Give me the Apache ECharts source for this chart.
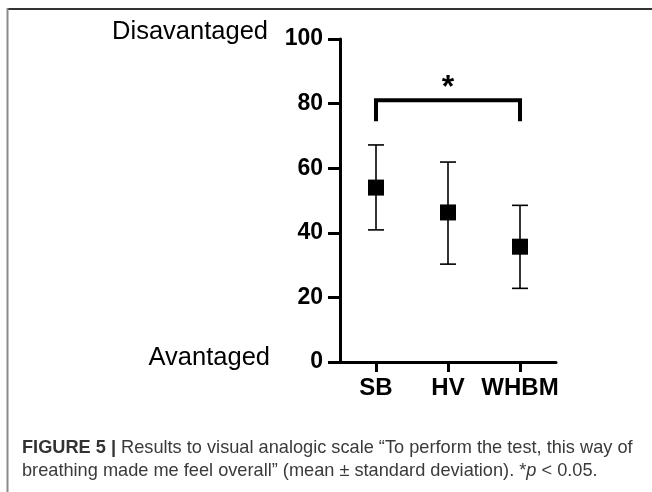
<!DOCTYPE html>
<html>
<head>
<meta charset="utf-8">
<script src="https://cdn.jsdelivr.net/npm/echarts@6/dist/echarts.min.js"></script>
<style>
  html, body { margin: 0; padding: 0; background: #fff; }
  #chart { width: 652px; height: 492px; }
</style>
</head>
<body>
<div id="chart"></div>
<script>
// ---- data ----
const categories = ['SB', 'HV', 'WHBM'];
const means = [54.0, 46.3, 35.7];
const upper = [67.2, 61.9, 48.5];
const lower = [40.9, 30.3, 22.8];
const yMin = 0, yMax = 100, yStep = 20;
const sigFrom = 'SB', sigTo = 'WHBM', sigLevel = 81, sigLegLow = 74.5, sigLabel = '*';
const topLabel = 'Disavantaged';
const bottomLabel = 'Avantaged';
const captionBold = 'FIGURE 5 |';
const captionLine1 = ' Results to visual analogic scale \u201CTo perform the test, this way of';
const captionLine2 = 'breathing made me feel overall\u201D (mean \u00B1 standard deviation). *';
const captionP = 'p';
const captionEnd = ' < 0.05.';

const FONT = 'Liberation Sans, Arial, Helvetica, sans-serif';
const chart = echarts.init(document.getElementById('chart'), null, { renderer: 'canvas' });

const errData = categories.map((c, i) => [i, lower[i], upper[i]]);
const meanData = categories.map((c, i) => [i, means[i]]);
const sigData = [[categories.indexOf(sigFrom), categories.indexOf(sigTo), sigLevel, sigLegLow]];

const option = {
  animation: false,
  backgroundColor: '#ffffff',
  grid: { left: 340, top: 39, right: 96, bottom: 130, containLabel: false },
  xAxis: {
    type: 'category',
    data: categories,
    boundaryGap: true,
    axisLine: { show: true, lineStyle: { color: '#000', width: 3 } },
    axisTick: { show: true, alignWithLabel: true, length: 10, lineStyle: { color: '#000', width: 3 } },
    axisLabel: { color: '#000', fontFamily: FONT, fontWeight: 'bold', fontSize: 24, margin: 14, interval: 0, hideOverlap: false },
    splitLine: { show: false }
  },
  yAxis: {
    type: 'value',
    min: yMin, max: yMax, interval: yStep,
    axisLine: { show: true, lineStyle: { color: '#000', width: 3 } },
    axisTick: { show: true, length: 12, lineStyle: { color: '#000', width: 3 } },
    axisLabel: { color: '#000', fontFamily: FONT, fontWeight: 'bold', fontSize: 23, margin: 17 },
    splitLine: { show: false }
  },
  graphic: [
    { type: 'line', shape: { x1: 7, y1: 9, x2: 652, y2: 9 }, style: { stroke: '#333', lineWidth: 2 } },
    { type: 'line', shape: { x1: 7.5, y1: 8, x2: 7.5, y2: 492 }, style: { stroke: '#8a8a8a', lineWidth: 2 } },
    { type: 'text', x: 268, y: 32, style: { text: topLabel, fill: '#000', font: '25.5px ' + FONT, textAlign: 'right', textVerticalAlign: 'middle' } },
    { type: 'text', x: 270, y: 358, style: { text: bottomLabel, fill: '#000', font: '25.5px ' + FONT, textAlign: 'right', textVerticalAlign: 'middle' } },
    {
      type: 'text', x: 22, y: 448,
      style: {
        text: '{b|' + captionBold + '}{n|' + captionLine1 + '}',
        textVerticalAlign: 'middle',
        rich: {
          b: { font: 'bold 18.2px ' + FONT, fill: '#333' },
          n: { font: '18.2px ' + FONT, fill: '#3a3a3a' }
        }
      }
    },
    {
      type: 'text', x: 22, y: 471,
      style: {
        text: '{n|' + captionLine2 + '}{i|' + captionP + '}{n|' + captionEnd + '}',
        textVerticalAlign: 'middle',
        rich: {
          n: { font: '18.2px ' + FONT, fill: '#3a3a3a' },
          i: { font: 'italic 18.2px ' + FONT, fill: '#3a3a3a' }
        }
      }
    }
  ],
  series: [
    {
      type: 'custom',
      name: 'sd',
      data: errData,
      clip: false,
      z: 2,
      renderItem: function (params, api) {
        const xi = api.value(0);
        const lo = api.coord([xi, api.value(1)]);
        const hi = api.coord([xi, api.value(2)]);
        const half = 8;
        const st = { stroke: '#000', lineWidth: 1.6, fill: null };
        return {
          type: 'group',
          children: [
            { type: 'line', shape: { x1: lo[0], y1: lo[1], x2: hi[0], y2: hi[1] }, style: st },
            { type: 'line', shape: { x1: hi[0] - half, y1: hi[1], x2: hi[0] + half, y2: hi[1] }, style: st },
            { type: 'line', shape: { x1: lo[0] - half, y1: lo[1], x2: lo[0] + half, y2: lo[1] }, style: st }
          ]
        };
      }
    },
    {
      type: 'scatter',
      name: 'mean',
      data: meanData,
      symbol: 'rect',
      symbolSize: 16,
      itemStyle: { color: '#000', opacity: 1 },
      z: 5
    },
    {
      type: 'custom',
      name: 'sig',
      data: sigData,
      clip: false,
      z: 3,
      renderItem: function (params, api) {
        const a = api.value(0), b = api.value(1), lvl = api.value(2), low = api.value(3);
        const p1 = api.coord([a, low]);
        const p2 = api.coord([a, lvl]);
        const p3 = api.coord([b, lvl]);
        const p4 = api.coord([b, low]);
        return {
          type: 'group',
          children: [
            {
              type: 'polyline',
              shape: { points: [p1, p2, p3, p4] },
              style: { stroke: '#000', lineWidth: 4, fill: null, lineJoin: 'miter', lineCap: 'butt' }
            },
            {
              type: 'text',
              x: (p2[0] + p3[0]) / 2,
              y: p2[1] - 12,
              style: { text: sigLabel, font: 'bold 32px ' + FONT, fill: '#000', textAlign: 'center', textVerticalAlign: 'middle' }
            }
          ]
        };
      }
    }
  ]
};
chart.setOption(option);
</script>
</body>
</html>
